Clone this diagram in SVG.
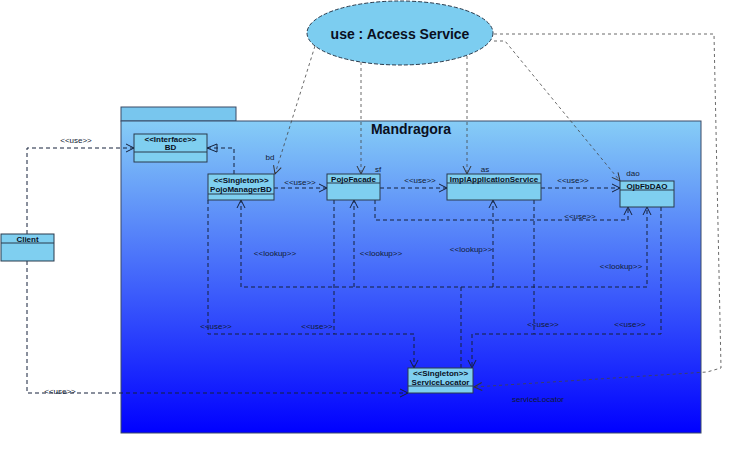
<svg xmlns="http://www.w3.org/2000/svg" width="737" height="450" viewBox="0 0 737 450">
<defs>
<linearGradient id="pkgGrad" x1="0" y1="0" x2="0" y2="1">
<stop offset="0" stop-color="#86cdf6"/>
<stop offset="1" stop-color="#0000ff"/>
</linearGradient>
<marker id="open" markerUnits="userSpaceOnUse" markerWidth="10" markerHeight="10" refX="8" refY="4" orient="auto" overflow="visible">
<path d="M0,0 L8,4 L0,8" fill="none" stroke="#14203a" stroke-width="1" stroke-dasharray="none"/>
</marker>
<marker id="openGray" markerUnits="userSpaceOnUse" markerWidth="10" markerHeight="10" refX="8" refY="4" orient="auto" overflow="visible">
<path d="M0,0 L8,4 L0,8" fill="none" stroke="#333" stroke-width="1" stroke-dasharray="none"/>
</marker>
<marker id="tri" markerUnits="userSpaceOnUse" markerWidth="12" markerHeight="10" refX="10" refY="4" orient="auto" overflow="visible">
<path d="M0,0 L10,4 L0,8 Z" fill="none" stroke="#14203a" stroke-width="1" stroke-dasharray="none"/>
</marker>
</defs>
<style>
.cls{fill:#7fcff0;stroke:#2a3a4c;stroke-width:1}
.div{stroke:#2a3a4c;stroke-width:1}
.nm{font-family:"Liberation Sans",Arial,sans-serif;font-size:8px;font-weight:bold;fill:#0a0f1e;text-anchor:middle}
.lbl{font-family:"Liberation Sans",Arial,sans-serif;font-size:8px;fill:#101a33;text-anchor:middle}
.con{fill:none;stroke:#14203a;stroke-width:1;stroke-dasharray:4,3}
.conG{fill:none;stroke:#444;stroke-width:0.8;stroke-dasharray:3,3}
</style>
<rect width="737" height="450" fill="#ffffff"/>

<g id="package-mandragora">
<rect x="121" y="107" width="115" height="14" fill="#78c6ee" stroke="#3a4a66" stroke-width="1"/>
<rect x="121" y="121" width="580" height="312" fill="url(#pkgGrad)" stroke="#3a4a66" stroke-width="1"/>
<text x="411" y="134" font-family="'Liberation Sans',Arial,sans-serif" font-size="14" font-weight="bold" fill="#0a0f1e" text-anchor="middle">Mandragora</text>
</g>

<g id="usecase-access-service">
<ellipse cx="400" cy="33" rx="93" ry="32" fill="#7ccdf0" stroke="#2a3a4c" stroke-width="1" stroke-dasharray="4,2"/>
<text x="400" y="39" font-family="'Liberation Sans',Arial,sans-serif" font-size="14" font-weight="bold" fill="#0a0f1e" text-anchor="middle">use : Access Service</text>
</g>

<g id="connectors">
<path class="con" d="M27,234 V148 H134" marker-end="url(#open)"/>
<path class="con" d="M27,261 V393 H408" marker-end="url(#open)"/>
<path class="con" d="M234,174 V148 H207" marker-end="url(#tri)"/>
<path class="con" d="M274,188 H327" marker-end="url(#open)"/>
<path class="con" d="M380,188 H447" marker-end="url(#open)"/>
<path class="con" d="M541,188 H620" marker-end="url(#open)"/>
<path class="con" d="M375,200 V220 H628 V207" marker-end="url(#open)"/>
<path class="con" d="M461,368 V287 H241 V200" marker-end="url(#open)"/>
<path class="con" d="M354,287 V200" marker-end="url(#open)"/>
<path class="con" d="M493,287 V200" marker-end="url(#open)"/>
<path class="con" d="M461,287 H647 V207" marker-end="url(#open)"/>
<path class="con" d="M208,200 V334 H414 V368" marker-end="url(#open)"/>
<path class="con" d="M334,200 V334"/>
<path class="con" d="M534,200 V334 H472 V368" marker-end="url(#open)"/>
<path class="con" d="M661,207 V334 H534"/>
<path class="conG" d="M315,46 L275,174" marker-end="url(#openGray)"/>
<path class="conG" d="M361,62 V174" marker-end="url(#openGray)"/>
<path class="conG" d="M467,56 V174" marker-end="url(#openGray)"/>
<path class="conG" d="M494,41 H505 L620,181" marker-end="url(#openGray)"/>
<path class="conG" d="M494,34 H714 L721,368 L707,372 L474,387" marker-end="url(#openGray)"/>
<text class="lbl" x="76" y="143">&lt;&lt;use&gt;&gt;</text>
<text class="lbl" x="60" y="394">&lt;&lt;use&gt;&gt;</text>
<text class="lbl" x="300" y="185">&lt;&lt;use&gt;&gt;</text>
<text class="lbl" x="420" y="183">&lt;&lt;use&gt;&gt;</text>
<text class="lbl" x="573" y="183">&lt;&lt;use&gt;&gt;</text>
<text class="lbl" x="580" y="219">&lt;&lt;use&gt;&gt;</text>
<text class="lbl" x="275" y="256">&lt;&lt;lookup&gt;&gt;</text>
<text class="lbl" x="381" y="256">&lt;&lt;lookup&gt;&gt;</text>
<text class="lbl" x="471" y="252">&lt;&lt;lookup&gt;&gt;</text>
<text class="lbl" x="621" y="269">&lt;&lt;lookup&gt;&gt;</text>
<text class="lbl" x="216" y="329">&lt;&lt;use&gt;&gt;</text>
<text class="lbl" x="317" y="329">&lt;&lt;use&gt;&gt;</text>
<text class="lbl" x="543" y="327">&lt;&lt;use&gt;&gt;</text>
<text class="lbl" x="630" y="327">&lt;&lt;use&gt;&gt;</text>
<text class="lbl" x="538" y="402">serviceLocator</text>
<text class="lbl" x="270" y="160">bd</text>
<text class="lbl" x="378" y="172">sf</text>
<text class="lbl" x="485" y="172">as</text>
<text class="lbl" x="633" y="176">dao</text>
</g>

<g id="class-bd">
<rect class="cls" x="134" y="134" width="73" height="28"/>
<line class="div" x1="134" y1="152" x2="207" y2="152"/>
<text class="nm" x="170.5" y="142">&lt;&lt;Interface&gt;&gt;</text>
<text class="nm" x="170.5" y="150">BD</text>
</g>

<g id="class-pojomanagerbd">
<rect class="cls" x="208" y="174" width="66" height="26"/>
<line class="div" x1="208" y1="194" x2="274" y2="194"/>
<text class="nm" x="241" y="183">&lt;&lt;Singleton&gt;&gt;</text>
<text class="nm" x="241" y="192">PojoManagerBD</text>
</g>

<g id="class-pojofacade">
<rect class="cls" x="327" y="174" width="53" height="26"/>
<line class="div" x1="327" y1="183" x2="380" y2="183"/>
<text class="nm" x="353.5" y="181.5">PojoFacade</text>
</g>

<g id="class-implapplicationservice">
<rect class="cls" x="447" y="174" width="94" height="26"/>
<line class="div" x1="447" y1="183" x2="541" y2="183"/>
<text class="nm" x="494" y="181.5">ImplApplicationService</text>
</g>

<g id="class-ojbfbdao">
<rect class="cls" x="620" y="181" width="54" height="26"/>
<line class="div" x1="620" y1="190" x2="674" y2="190"/>
<text class="nm" x="647" y="188.5">OjbFbDAO</text>
</g>

<g id="class-client">
<rect class="cls" x="1" y="234" width="53" height="27"/>
<line class="div" x1="1" y1="243" x2="54" y2="243"/>
<text class="nm" x="27.5" y="241.5">Client</text>
</g>

<g id="class-servicelocator">
<rect class="cls" x="408" y="368" width="65" height="25"/>
<line class="div" x1="408" y1="386" x2="473" y2="386"/>
<text class="nm" x="440.5" y="376">&lt;&lt;Singleton&gt;&gt;</text>
<text class="nm" x="440.5" y="384.5">ServiceLocator</text>
</g>
</svg>
